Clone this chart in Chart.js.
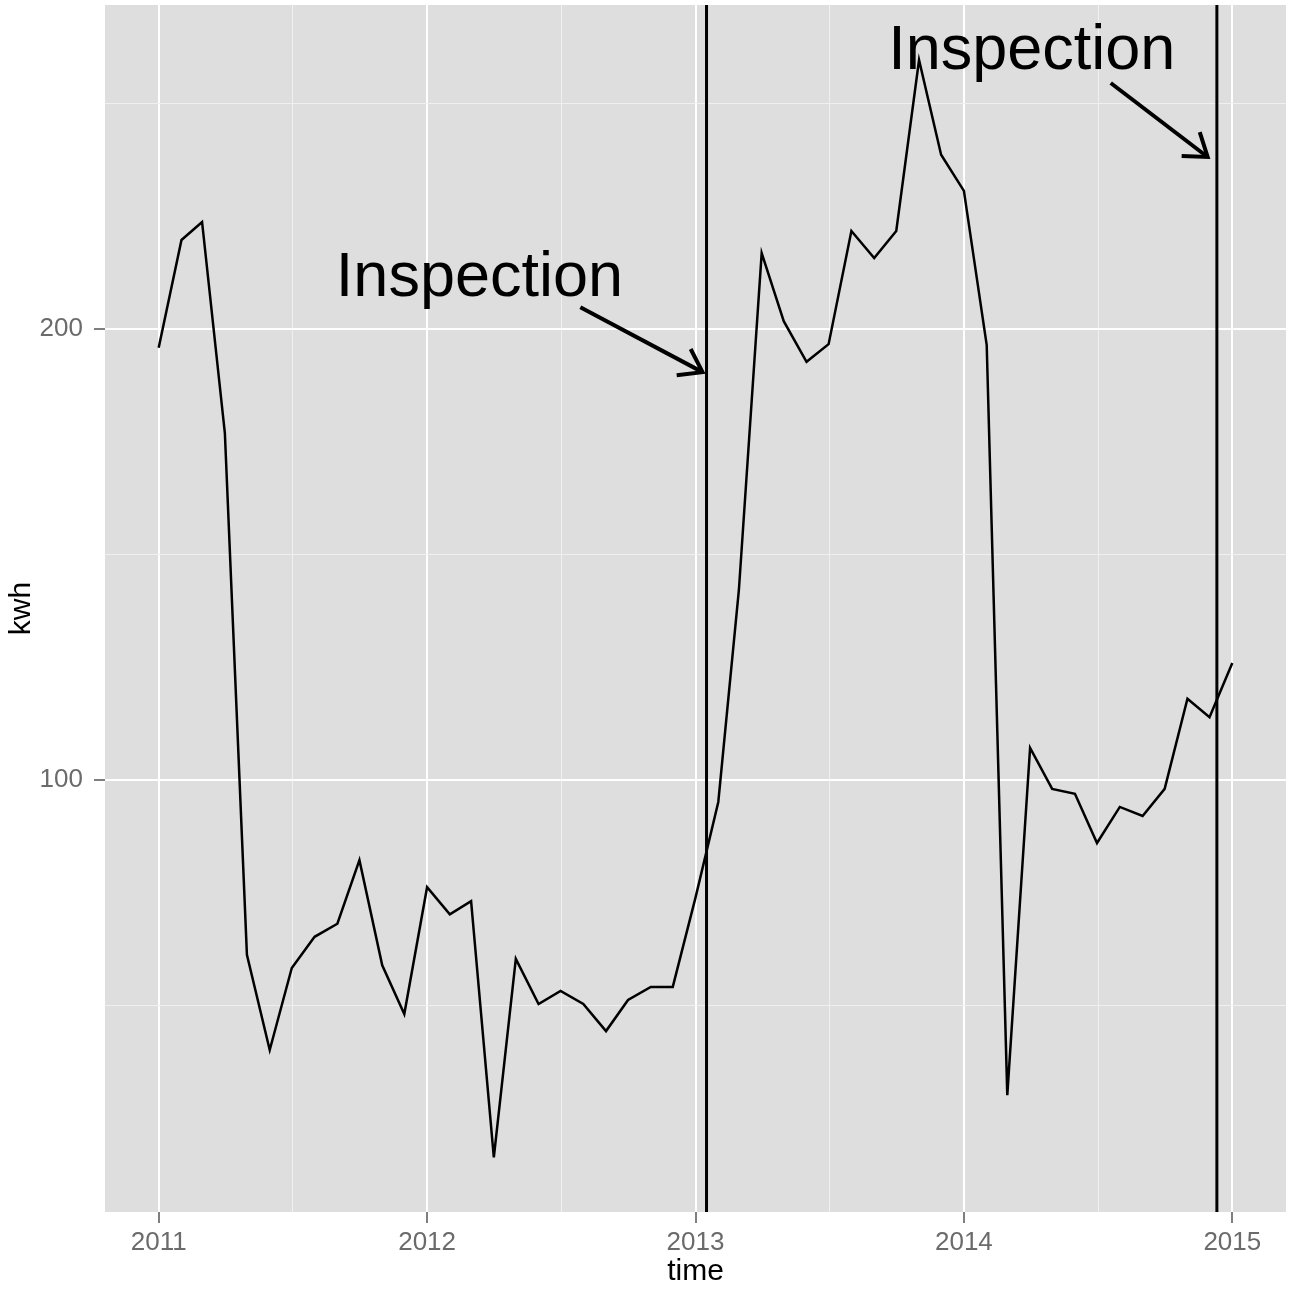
<!DOCTYPE html>
<html>
<head>
<meta charset="utf-8">
<title>kwh over time</title>
<script src="https://cdn.jsdelivr.net/npm/chart.js@4.4.1/dist/chart.umd.min.js"></script>
<style>
  html, body { margin: 0; padding: 0; background: #fff; }
  #c { display: block; }
</style>
</head>
<body>
<canvas id="c" width="1296" height="1292"></canvas>
<script>
/* monthly kwh readings, two inspections marked */
const months = [
  "2011-01", "2011-02", "2011-03", "2011-04", "2011-05", "2011-06", "2011-07", "2011-08", "2011-09", "2011-10", "2011-11", "2011-12",
  "2012-01", "2012-02", "2012-03", "2012-04", "2012-05", "2012-06", "2012-07", "2012-08", "2012-09", "2012-10", "2012-11", "2012-12",
  "2013-01", "2013-02", "2013-03", "2013-04", "2013-05", "2013-06", "2013-07", "2013-08", "2013-09", "2013-10", "2013-11", "2013-12",
  "2014-01", "2014-02", "2014-03", "2014-04", "2014-05", "2014-06", "2014-07", "2014-08", "2014-09", "2014-10", "2014-11", "2014-12",
  "2015-01",
];
const kwh = [
  195.9, 219.8, 223.8, 177.0, 61.3, 40.2, 58.4, 65.3, 68.2, 82.3, 59.0, 48.2,
  76.3, 70.3, 73.2, 16.4, 60.4, 50.4, 53.3, 50.4, 44.4, 51.3, 54.2, 54.2,
  74.0, 95.2, 142.2, 216.9, 201.8, 192.8, 196.7, 221.8, 215.8, 221.8, 259.7, 238.7,
  230.7, 196.5, 30.2, 107.2, 98.1, 97.0, 86.1, 94.1, 92.1, 98.1, 118.1, 114.0,
  126.0,
];
const inspections = ["2013-01-16", "2014-12-11"];

// annotation text + arrows, in data units (decimal year, kwh)
const noteLabel = "Inspection";
const noteAt = [[2012.195, 207.3], [2014.253, 257.8]];
const arrowFrom = [[2012.571, 204.9], [2014.547, 254.6]];
const arrowTo = [[2013.026, 190.5], [2014.908, 238.2]];

const xMajor = [2011, 2012, 2013, 2014, 2015];
const xMinor = [2011.5, 2012.5, 2013.5, 2014.5];
const yMajor = [100, 200];
const yMinor = [50, 150, 250];

const FONT = '"Liberation Sans", Arial, Helvetica, sans-serif';

function toYear(s) {
  const [y, m, d] = s.split("-").map(Number);
  const day = (Date.UTC(y, m - 1, d || 1) - Date.UTC(y, 0, 1)) / 86400000;
  const len = (Date.UTC(y + 1, 0, 1) - Date.UTC(y, 0, 1)) / 86400000;
  return y + day / len;
}

const series = months.map((m, i) => ({ x: toYear(m), y: kwh[i] }));

const panelBg = {
  id: "panelBg",
  beforeDraw(chart) {
    const { ctx, chartArea: a } = chart;
    ctx.save();
    ctx.fillStyle = "#dedede";
    ctx.fillRect(a.left, a.top, a.right - a.left, a.bottom - a.top);
    ctx.restore();
  },
};

const notes = {
  id: "notes",
  afterDatasetsDraw(chart) {
    const { ctx, scales } = chart;
    const px = (p) => [scales.x.getPixelForValue(p[0]), scales.y.getPixelForValue(p[1])];
    ctx.save();
    ctx.fillStyle = "#000";
    ctx.font = `63px ${FONT}`;
    ctx.textAlign = "center";
    ctx.textBaseline = "alphabetic";
    noteAt.forEach((p) => {
      const [x, y] = px(p);
      ctx.fillText(noteLabel, x, y);
    });

    ctx.strokeStyle = "#000";
    ctx.lineWidth = 4;
    ctx.lineCap = "butt";
    arrowFrom.forEach((p, i) => {
      const [x0, y0] = px(p);
      const [x1, y1] = px(arrowTo[i]);
      const ang = Math.atan2(y1 - y0, x1 - x0);
      const len = 26, spread = (35 * Math.PI) / 180;
      ctx.beginPath();
      ctx.moveTo(x0, y0);
      ctx.lineTo(x1, y1);
      ctx.stroke();
      ctx.beginPath();
      ctx.moveTo(x1 - len * Math.cos(ang - spread), y1 - len * Math.sin(ang - spread));
      ctx.lineTo(x1, y1);
      ctx.lineTo(x1 - len * Math.cos(ang + spread), y1 - len * Math.sin(ang + spread));
      ctx.stroke();
    });
    ctx.restore();
  },
};

function gridFor(major) {
  const isMajor = (ctx) => ctx.tick && major.includes(ctx.tick.value);
  return {
    color: (ctx) => (isMajor(ctx) ? "#ffffff" : "#f0f0f0"),
    lineWidth: (ctx) => (isMajor(ctx) ? 2 : 1),
    tickColor: (ctx) => (isMajor(ctx) ? "#7f7f7f" : "rgba(0,0,0,0)"),
    tickWidth: 2,
    tickLength: 11,
  };
}

new Chart(document.getElementById("c"), {
  type: "line",
  data: {
    datasets: [
      { data: series, borderColor: "#000", borderWidth: 2.5, pointRadius: 0, tension: 0 },
      ...inspections.map((d) => ({
        data: [{ x: toYear(d), y: -100 }, { x: toYear(d), y: 400 }],
        borderColor: "#000",
        borderWidth: 3,
        pointRadius: 0,
      })),
    ],
  },
  options: {
    responsive: false,
    animation: false,
    devicePixelRatio: 1,
    layout: { padding: { top: 5, right: 10, left: 0, bottom: 0 } },
    plugins: { legend: { display: false }, tooltip: { enabled: false } },
    scales: {
      x: {
        type: "linear",
        bounds: "data",
        min: 2010.8,
        max: 2015.2,
        afterBuildTicks: (s) => {
          s.ticks = [...xMajor, ...xMinor].sort((a, b) => a - b).map((v) => ({ value: v }));
        },
        afterFit: (s) => {
          s.height = 80;
          s.paddingLeft = 0;
          s.paddingRight = 0;
        },
        border: { display: false },
        grid: gridFor(xMajor),
        ticks: {
          autoSkip: false,
          maxRotation: 0,
          padding: 4,
          color: "#6b6b6b",
          font: { size: 26, family: FONT },
          callback: (v) => (xMajor.includes(v) ? String(v) : ""),
        },
        title: {
          display: true,
          text: "time",
          color: "#000",
          font: { size: 30, family: FONT },
          padding: { top: 0, bottom: 2 },
        },
      },
      y: {
        type: "linear",
        bounds: "data",
        min: 4.29,
        max: 271.9,
        afterBuildTicks: (s) => {
          s.ticks = [...yMajor, ...yMinor].sort((a, b) => a - b).map((v) => ({ value: v }));
        },
        afterFit: (s) => {
          s.width = 105;
          s.paddingTop = 0;
          s.paddingBottom = 0;
        },
        border: { display: false },
        grid: gridFor(yMajor),
        ticks: {
          autoSkip: false,
          padding: 11,
          color: "#6b6b6b",
          font: { size: 26, family: FONT },
          callback: (v) => (yMajor.includes(v) ? String(v) : ""),
        },
        title: {
          display: true,
          text: "kwh",
          color: "#000",
          font: { size: 30, family: FONT },
          padding: { top: 4, bottom: 0 },
        },
      },
    },
  },
  plugins: [panelBg, notes],
});
</script>
</body>
</html>
